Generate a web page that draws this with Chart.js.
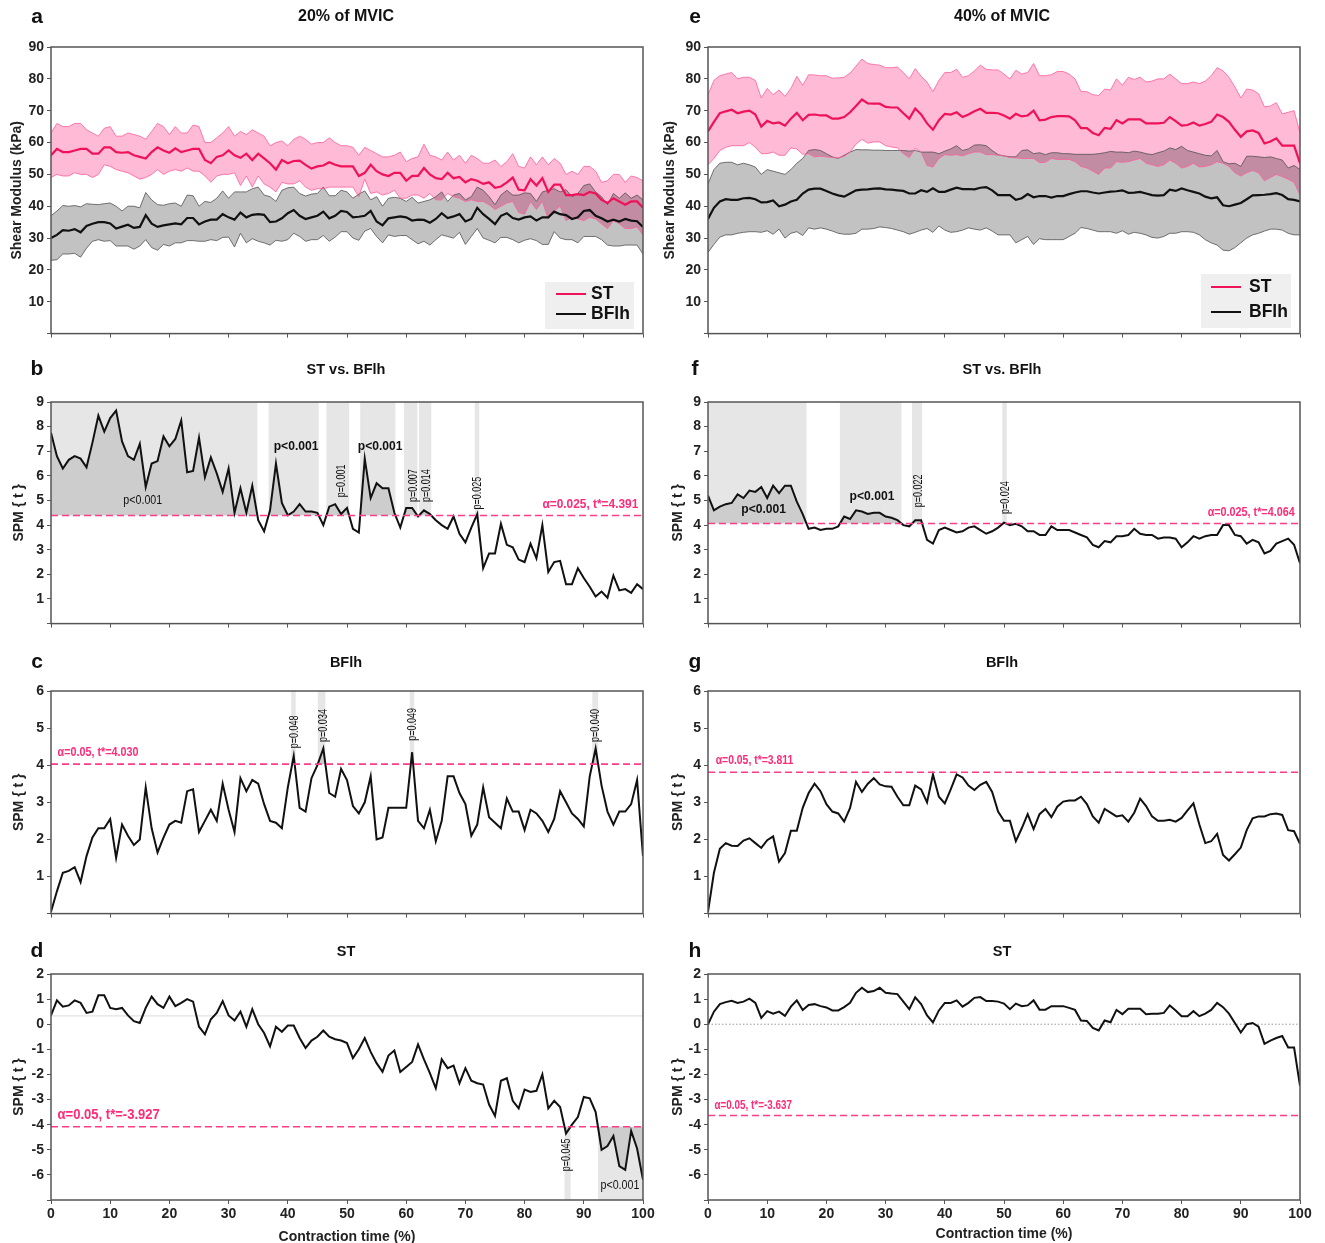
<!DOCTYPE html>
<html>
<head>
<meta charset="utf-8">
<title>Shear modulus and SPM</title>
<script src="https://cdn.jsdelivr.net/npm/chart.js@4.4.0/dist/chart.umd.min.js"></script>
<style>
  html, body { margin: 0; padding: 0; background: #fff; }
  #wrap { position: relative; width: 1325px; height: 1243px; overflow: hidden; }
  .panel { position: absolute; }
</style>
</head>
<body>
<div id="wrap"></div>
<script>
// ---- data (x = contraction time 0..100 %) ----
const TIME = Array.from({ length: 101 }, (_, i) => i);

// panel a : 20% MVIC, shear modulus (kPa)
const A_ST_MEAN = [56, 58, 57, 57, 57.5, 58, 58, 56.5, 56.5, 58.5,
  58.5, 57, 56.8, 57, 56, 55.5, 55, 57, 58.5, 57.5,
  56.8, 58.2, 57, 57.5, 58, 58, 54.5, 53.5, 55.5, 56,
  57.5, 56, 55.2, 56.5, 54.5, 56.5, 55, 53.5, 51.5, 54.5,
  53.5, 54.2, 54.3, 53, 51.8, 52.5, 52.8, 53.8, 53, 52.5,
  52.5, 52.5, 49.5, 50.5, 53, 51, 50, 49.5, 50.5, 50.5,
  48, 49.5, 49.5, 52, 50, 48.8, 48.5, 50.5, 48.8, 49.2,
  47.5, 48.5, 48, 47, 47.5, 45.8, 46.2, 47.5, 49, 45.2,
  45, 48.5, 46.5, 48.8, 44.5, 46.8, 46.8, 43.5, 43.5, 43.8,
  43.5, 44.5, 44, 42, 41, 42.5, 41.5, 40.5, 41.5, 41.5,
  39.5];
const A_ST_UP = [63, 66, 65, 65, 66, 66, 64, 63, 62, 64.5,
  65, 62, 62, 63, 62.5, 62, 61, 63.5, 66, 65,
  62.5, 65, 63, 63, 65.5, 65, 60, 60, 61.5, 63,
  65, 62, 63.5, 62.5, 64, 63, 62, 59, 60, 60.5,
  59, 61, 62, 61, 59.5, 60, 60, 61.5, 60, 59,
  59, 58.5, 56, 58.5, 57.5, 56.5, 55.5, 55.5, 56, 57,
  54, 55, 55.5, 59.5, 56, 55.5, 54.5, 57, 54.5, 56,
  53.5, 56, 55, 53.5, 53.5, 54.5, 52.5, 54, 56.5, 52.5,
  52, 55.5, 53, 55.5, 53, 55, 53.5, 50, 51, 50,
  52.5, 52.5, 51, 47.5, 48, 50, 50, 47.5, 49.5, 49,
  48];
const A_ST_LO = [49, 50, 49.5, 49.5, 50.5, 50, 50, 49, 50, 53,
  52.5, 51.5, 51, 50.5, 49.5, 48.5, 49, 50, 51.5, 50,
  51, 51.5, 51, 52, 51, 51, 49.5, 47.5, 49.5, 50,
  50, 50.5, 46.5, 49.5, 46, 49.5, 47, 46, 44.5, 47.5,
  47, 47, 48, 46, 45, 45.5, 45.5, 46, 46, 46,
  46, 46, 43, 48.5, 44, 44.5, 43.5, 44, 45, 42.5,
  42.5, 43.5, 43.5, 42.5, 44, 42, 42, 44, 43, 42.5,
  41.5, 42, 41.5, 41.5, 40.5, 39, 40, 41, 41.5, 38,
  37.5, 41.5, 39, 41.5, 36, 38.5, 40, 35.5, 36.5, 36,
  35.5, 36.5, 36, 34.5, 33, 35.5, 34.5, 33, 33, 33.5,
  31];
const A_BF_MEAN = [30, 31, 32.5, 32.3, 32.8, 31.8, 33.8, 34.5, 35, 35,
  34.6, 33, 33.6, 34.2, 33.2, 33.5, 37.2, 34.5, 33.5, 34,
  34.3, 34.6, 34.3, 36.3, 36.3, 34.3, 35.2, 35.8, 35.8, 37.5,
  36.5, 35.8, 38, 36.5, 37.3, 37.5, 37.3, 35, 35.2, 36.2,
  37.8, 38.8, 37, 36, 36.5, 37, 38.3, 36.2, 37, 38.5,
  38.2, 36.5, 36.7, 37, 38.5, 35.2, 34, 36.2, 36.5, 36.8,
  36.5, 35.5, 35.8, 35.7, 34.8, 36, 37.8, 36.3, 36.8, 37.5,
  35.2, 36, 39.5, 37.5, 36, 34.4, 37, 37.8, 36.3, 35.8,
  36.5, 36.8, 35.5, 36.5, 36.5, 38.3, 37.5, 37.2, 36, 36.5,
  38.5, 38.8, 37, 36.2, 35.2, 35.8, 35.2, 36, 35.5, 35.3,
  33.5];
const A_BF_UP = [37, 38.5, 40.2, 40, 40.2, 39.8, 40.8, 40.6, 40.5, 40.8,
  41, 40, 38.5, 40, 40, 39.5, 44.3, 42, 40.5, 40.3,
  40.8, 41, 40, 43.5, 43.3, 40, 41.5, 41.2, 42.5, 44.8,
  42.5, 44.5, 44.5, 44.5, 45.5, 46, 43.5, 43, 41.5, 45,
  45.8, 46, 44, 43.2, 43.8, 44, 46, 43.3, 43.3, 45,
  44.5, 42.5, 43.8, 44.8, 42, 43, 40, 42.5, 42.8, 42.5,
  41.5, 42.8, 41, 41.5, 42, 43, 44.5, 41.5, 43.5, 44,
  42, 43, 46, 45, 43, 40.5, 43.5, 45, 43.5, 43.5,
  44.2, 44, 41.5, 44.5, 45, 45.5, 44.5, 45.2, 43, 44,
  46.5, 47, 44.5, 43, 40.5, 44, 42.5, 44.2, 42.5, 43.5,
  42];
const A_BF_LO = [23, 23.2, 25, 25, 25.2, 24, 26.8, 29, 29.5, 29,
  29.2, 27.5, 27.5, 27.5, 26.5, 27.5, 29.5, 27, 26.2, 28,
  27.5, 28.5, 28.5, 29.2, 29.2, 29, 29, 29.5, 29.2, 30.2,
  30.3, 27.2, 31.5, 28.5, 29.8, 29, 28.5, 27.8, 29.3, 29,
  29.5, 31.5, 30.5, 29, 29.5, 29.5, 30.8, 29, 30.3, 32,
  32, 30, 29.3, 32.2, 33, 30.5, 28.5, 31, 30.5, 30.8,
  30.8, 29.5, 28.2, 29, 27.8, 29.5, 31, 30.5, 30, 31.8,
  28, 30.5, 33, 30, 29.3, 28.5, 30.2, 30.2, 29.5, 28.5,
  29.3, 29.8, 29.2, 28, 28, 32, 30, 29.5, 29.5, 28.5,
  30.5, 30.5, 30.5, 29.5, 27.8, 27.5, 27.5, 27.8, 27.8, 27.8,
  25];

// panel e : 40% MVIC, shear modulus (kPa)
const E_ST_MEAN = [63.5, 66.5, 69.2, 69.8, 70.3, 69.2, 69.7, 70, 68.8, 65,
  66.8, 66, 66.3, 65.3, 67.5, 69.3, 67, 68.7, 68.8, 68.5,
  68.5, 67.5, 67.5, 68, 69.5, 71.5, 73.5, 72.3, 72.2, 72.2,
  71.2, 71, 71, 69.2, 67.5, 70.7, 68.8, 66, 64, 67,
  69, 68.8, 69.5, 68, 68.8, 69.8, 70.6, 69.3, 69.3, 69.2,
  68.5, 67.5, 69, 68.2, 68.5, 70, 67, 67.2, 68, 68.3,
  68.3, 68.2, 67, 64.5, 64.5, 63, 62.3, 64.6, 64.3, 67,
  66, 67.3, 67.3, 67.3, 66, 66, 66, 66.2, 68, 66.7,
  65.3, 65.5, 66.3, 65.3, 65.8, 66.5, 68.8, 68, 66.5, 64,
  61.8, 63.5, 63.8, 63, 59.7, 60.3, 61.3, 59, 59, 59,
  53.5];
const E_ST_UP = [75, 79.5, 81, 81.5, 82, 80, 80.5, 80.5, 79.5, 74,
  77, 75, 76.5, 74.5, 77, 80.8, 78, 81.3, 81.2, 81,
  81, 80.2, 80.3, 80.5, 81.8, 84, 86.2, 84.8, 84.5, 84.3,
  83.5, 83.5, 83.7, 82, 80, 83.2, 80.8, 79, 76, 79.5,
  82, 82, 83, 80.5, 81, 82.5, 84.3, 83, 82.8, 82.8,
  81.5, 80, 82.7, 81.5, 82, 84.8, 81, 81, 81.3, 82.3,
  82.3, 81.5, 80, 76, 76, 75, 74.8, 76.8, 76.5, 80,
  78, 80.5, 79.8, 80.5, 79, 79.3, 80, 80, 81.5, 80,
  78.5, 78.5, 79, 78.5, 79.3, 81, 83.5, 82.5, 80.5, 77.5,
  74, 76.8, 76.5, 75.3, 71.2, 71.5, 72.5, 69, 69.5, 70,
  63];
const E_ST_LO = [53, 55, 57.5, 58.5, 59, 59, 59, 60, 58.5, 56.5,
  56.5, 57, 56, 56, 58.3, 58, 56.3, 56.5, 55.5, 55.7,
  55.5, 55.3, 55.2, 55.7, 57, 59.5, 61, 59.8, 60.2, 60.2,
  59, 58.6, 58.3, 56.5, 55.3, 58.2, 57, 52.8, 52.3, 55,
  56.2, 56, 56.2, 55.8, 56.5, 57, 57, 56.2, 56.2, 56,
  55.8, 55.3, 55.2, 55, 55, 55, 53.7, 53.8, 55, 54.7,
  54.7, 54.7, 54, 52.5, 52, 51, 50, 52, 52, 54,
  53.8, 54, 54.5, 55, 53.5, 53, 52.5, 53, 54.5, 53.5,
  52, 52.5, 53.5, 52.3, 52.5, 53, 54, 53.5, 52.5, 50.5,
  49.5, 50.5, 51.2, 50.5, 48, 49, 50, 49.3, 48.5, 47.5,
  43.5];
const E_BF_MEAN = [36, 39.5, 41.5, 42.2, 42, 42, 42.5, 42.6, 42.2, 41.2,
  41.3, 41.8, 40, 40.5, 41.5, 42, 44, 45.2, 45.5, 45.5,
  44.8, 44, 43.4, 43, 44, 45, 45.2, 45.3, 45.5, 45.6,
  45.3, 45.2, 45, 44.8, 44, 44, 45, 44.5, 45.6, 44.5,
  44.5, 45.2, 45.8, 45.4, 45.4, 45.3, 45.8, 46, 45, 43.5,
  43.5, 43.5, 42, 42.5, 43.8, 42.8, 43.2, 43.2, 42.7, 43.2,
  43.2, 43.8, 44.3, 44.7, 44.7, 44.3, 44, 44.3, 44.6, 44.7,
  45, 44.2, 44.3, 44.5, 44, 43.5, 43.3, 43.5, 45.2, 44.8,
  45.6, 45, 44.5, 44, 43, 42.5, 42.8, 40.3, 40, 40.5,
  41, 42.2, 43.4, 43.5, 43.6, 43.8, 44.1, 43.5, 42.2, 42,
  41.5];
const E_BF_UP = [47, 51.5, 53.5, 53.8, 53.8, 53, 53.5, 53, 52.3, 50,
  51.5, 51, 50.5, 50, 51.5, 53.5, 55, 57.5, 57.8, 57.5,
  56.5, 55.5, 55, 56, 57, 57.8, 57.7, 57.7, 57.6, 57.6,
  57.5, 57.5, 57.5, 57.5, 57.3, 57.5, 57, 57, 57, 56.5,
  57.3, 58, 59, 57.5, 58, 59.2, 59.3, 59, 57.5, 56.2,
  55.8, 55.5, 55.5, 57.5, 57.7, 56.5, 56.8, 56.2, 56.8, 56.8,
  56.5, 56.5, 56.3, 56.3, 56.3, 56.3, 56.5, 56.8, 57.2, 57,
  57, 56.8, 57.3, 57, 56.5, 56.2, 56.8, 57.3, 58.3, 57.8,
  58.8, 57.5, 57, 56.5, 56, 55.8, 57.5, 54, 53.3, 53.5,
  52.5, 55.7, 55.7, 55.5, 55.3, 55.5, 55, 54.5, 52, 52.8,
  51.5];
const E_BF_LO = [25.5, 28, 30.3, 31, 31, 31.5, 31.8, 32, 32, 31.8,
  32.3, 31.2, 32.8, 30, 31.5, 32, 30.8, 33.2, 32.8, 33.2,
  32.8, 32.2, 31.5, 31.2, 31.2, 31.5, 32.8, 32.8, 33, 33.5,
  33.3, 33, 32.5, 32, 31.2, 31.8, 32.5, 33, 31.8, 33.8,
  32.5, 31.8, 32, 32.5, 33.2, 32.8, 32.5, 33.2, 32.2, 31,
  31, 31, 28.5, 29.5, 30.5, 28, 29.8, 29.5, 29.5, 29.5,
  29.5, 30.5, 31.5, 33.3, 33, 32.5, 32, 32, 32, 31.5,
  32.3, 31.2, 31.8, 31.5, 31, 30.2, 30, 30.5, 31.5, 31.5,
  32, 32, 31.8, 31, 29.5, 28.5, 27.8, 26.2, 26, 27,
  28.5, 30, 31, 31.5, 32.2, 32.8, 32.8, 32.5, 31.5, 31,
  31];

// SPM{t} curves
const B_SPM = [7.75, 6.8, 6.3, 6.65, 6.8, 6.7, 6.35, 7.35, 8.45, 7.8,
  8.35, 8.65, 7.4, 6.8, 6.65, 7.3, 5.55, 6.5, 6.6, 7.6,
  7.2, 7.5, 8.25, 6.15, 6.2, 7.55, 5.95, 6.75, 6.1, 5.35,
  6.3, 4.5, 5.5, 4.5, 5.6, 4.2, 3.75, 4.6, 6.5, 4.9,
  4.4, 4.55, 4.85, 4.55, 4.55, 4.5, 4.0, 4.75, 4.85, 4.45,
  4.7, 3.85, 3.7, 6.7, 5.1, 5.7, 5.5, 5.5, 4.5, 3.9,
  4.7, 4.7, 4.35, 4.6, 4.45, 4.2, 4.0, 3.85, 4.35, 3.65,
  3.3, 3.9, 4.45, 2.25, 2.85, 2.85, 4.05, 3.2, 3.1, 2.6,
  2.5, 3.25, 2.65, 4.0, 2.1, 2.5, 2.55, 1.6, 1.6, 2.25,
  1.85, 1.5, 1.1, 1.3, 1.05, 1.95, 1.35, 1.4, 1.25, 1.6,
  1.4];
const C_SPM = [0.05, 0.6, 1.1, 1.15, 1.25, 0.85, 1.55, 2.05, 2.3, 2.3,
  2.55, 1.5, 2.4, 2.1, 1.85, 2.0, 3.4, 2.3, 1.65, 2.05,
  2.4, 2.5, 2.45, 3.3, 3.35, 2.2, 2.5, 2.8, 2.5, 3.5,
  2.8, 2.2, 3.65, 3.3, 3.6, 3.5, 2.95, 2.5, 2.45, 2.3,
  3.4, 4.25, 2.85, 2.75, 3.65, 4.0, 4.45, 3.25, 3.15, 3.9,
  3.6, 2.9, 2.7, 3.0, 3.7, 2.0, 2.05, 2.85, 2.85, 2.85,
  2.85, 4.35, 2.5, 2.3, 2.8, 1.95, 2.5, 3.7, 3.7, 3.25,
  2.95, 2.1, 2.4, 3.4, 2.6, 2.45, 2.3, 3.1, 2.75, 2.75,
  2.25, 2.8, 2.7, 2.5, 2.2, 2.55, 3.3, 3.0, 2.7, 2.55,
  2.35, 3.7, 4.45, 3.45, 2.75, 2.4, 2.75, 2.75, 2.95, 3.6,
  1.55];
const D_SPM = [0.35, 0.95, 0.7, 0.75, 0.95, 0.85, 0.45, 0.5, 1.15, 1.15,
  0.65, 0.6, 0.65, 0.35, 0.12, 0.05, 0.65, 1.1, 0.8, 0.65,
  1.1, 0.72, 0.85, 1.0, 0.9, -0.1, -0.4, 0.2, 0.45, 0.92,
  0.35, 0.15, 0.5, -0.1, 0.6, 0.0, -0.35, -0.88, -0.1, -0.3,
  -0.05, -0.05, -0.55, -0.95, -0.65, -0.5, -0.25, -0.5, -0.6, -0.65,
  -0.75, -1.35, -1.0, -0.55, -1.1, -1.55, -1.9, -1.25, -1.05, -1.9,
  -1.7, -1.5, -0.8, -1.4, -1.95, -2.55, -1.4, -1.75, -1.65, -2.35,
  -1.75, -2.25, -2.35, -2.4, -3.2, -3.65, -2.25, -2.15, -3.05, -3.35,
  -2.6, -2.7, -2.65, -2.0, -3.35, -3.05, -3.3, -4.35, -4.0, -3.7,
  -2.9, -2.95, -3.5, -5.0, -4.85, -4.45, -5.65, -5.8, -4.25, -4.95,
  -6.2];
const F_SPM = [5.2, 4.6, 4.75, 4.85, 4.9, 5.25, 5.1, 5.4, 5.35, 5.55,
  5.1, 5.6, 5.3, 5.6, 5.6, 4.95, 4.45, 3.85, 3.9, 3.8,
  3.85, 3.85, 3.95, 4.35, 4.25, 4.6, 4.55, 4.45, 4.5, 4.5,
  4.35, 4.3, 4.2, 4.0, 3.95, 4.2, 4.2, 3.4, 3.25, 3.8,
  3.9, 3.8, 3.7, 3.75, 3.9, 3.95, 3.8, 3.65, 3.75, 3.9,
  4.1, 4.0, 4.05, 3.95, 3.75, 3.75, 3.6, 3.6, 3.95, 3.8,
  3.8, 3.8, 3.7, 3.6, 3.5, 3.2, 3.1, 3.35, 3.3, 3.55,
  3.55, 3.6, 3.85, 3.65, 3.6, 3.6, 3.45, 3.5, 3.5, 3.45,
  3.1, 3.3, 3.55, 3.45, 3.55, 3.6, 3.6, 4.0, 4.0, 3.6,
  3.55, 3.25, 3.4, 3.3, 2.85, 2.95, 3.25, 3.35, 3.45, 3.2,
  2.45];
const G_SPM = [0.05, 1.1, 1.75, 1.9, 1.83, 1.82, 1.97, 2.03, 1.9, 1.77,
  1.98, 2.08, 1.4, 1.63, 2.23, 2.23, 2.85, 3.25, 3.5, 3.3,
  2.95, 2.75, 2.7, 2.48, 2.85, 3.55, 3.28, 3.5, 3.65, 3.48,
  3.43, 3.42, 3.15, 2.92, 2.92, 3.45, 3.35, 3.0, 3.75, 3.15,
  2.97, 3.35, 3.75, 3.67, 3.45, 3.33, 3.47, 3.55, 3.28, 2.75,
  2.5, 2.5, 1.95, 2.3, 2.68, 2.28, 2.68, 2.82, 2.6, 2.88,
  3.02, 3.05, 3.05, 3.15, 2.95, 2.62, 2.45, 2.82, 2.72, 2.62,
  2.65, 2.48, 2.72, 3.1, 2.9, 2.62, 2.5, 2.5, 2.53, 2.48,
  2.58, 2.78, 2.97, 2.4, 1.9, 1.95, 2.15, 1.58, 1.43, 1.6,
  1.78, 2.25, 2.57, 2.62, 2.62, 2.68, 2.7, 2.66, 2.25, 2.22,
  1.88];
const H_SPM = [0.0, 0.5, 0.8, 0.88, 0.93, 0.85, 0.9, 1.02, 0.85, 0.25,
  0.52, 0.42, 0.5, 0.33, 0.7, 0.95, 0.57, 0.77, 0.8, 0.72,
  0.67, 0.55, 0.55, 0.68, 0.85, 1.25, 1.45, 1.28, 1.32, 1.45,
  1.25, 1.22, 1.2, 0.9, 0.6, 1.07, 0.8, 0.35, 0.07, 0.55,
  0.85, 0.85, 0.95, 0.7, 0.85, 1.05, 1.08, 0.92, 0.92, 0.9,
  0.82, 0.6, 0.82, 0.72, 0.75, 0.95, 0.58, 0.58, 0.72, 0.72,
  0.72, 0.65, 0.57, 0.15, 0.13, -0.15, -0.25, 0.15, 0.08, 0.57,
  0.4, 0.62, 0.62, 0.62, 0.4, 0.42, 0.42, 0.45, 0.75, 0.55,
  0.32, 0.32, 0.52, 0.32, 0.42, 0.57, 0.85, 0.68, 0.42, 0.05,
  -0.33, 0.0, 0.05, -0.1, -0.78, -0.65, -0.55, -0.47, -0.93, -0.93,
  -2.45];

// critical thresholds (d: the dashed line sits at about -4.08 in the figure)
const B_THRESHOLD = 4.391, C_THRESHOLD = 4.030, D_THRESHOLD = -4.08;
const F_THRESHOLD = 4.064, G_THRESHOLD = 3.811, H_THRESHOLD = -3.637;

// annotations: [text, x, y, kind]
const B_NOTES = [['p<0.001', 15.5, 5.0, 'small'], ['p<0.001', 41.4, 7.2, 'bold'], ['p=0.001', 49, 5.8, 'rot'],
  ['p<0.001', 55.6, 7.2, 'bold'], ['p=0.007', 61.2, 5.6, 'rot'], ['p=0.014', 63.5, 5.6, 'rot'], ['p=0.025', 72, 5.3, 'rot']];
const C_NOTES = [['p=0.048', 41.1, 4.9, 'rot'], ['p=0.034', 46.1, 5.07, 'rot'], ['p=0.049', 61, 5.1, 'rot'], ['p=0.040', 92, 5.07, 'rot']];
const D_NOTES = [['p=0.045', 87.1, -5.2, 'rot'], ['p<0.001', 96.1, -6.4, 'small']];
const F_NOTES = [['p<0.001', 9.4, 4.63, 'bold'], ['p<0.001', 27.7, 5.15, 'bold'], ['p=0.022', 35.6, 5.39, 'rot'], ['p=0.024', 50.3, 5.12, 'rot']];

// ---- drawing helpers ----
const FONT = "'Liberation Sans', Arial, Helvetica, sans-serif";
Chart.defaults.font.family = FONT;
Chart.defaults.color = '#222';
const PINK = '#ef1259';
const DASH_PINK = '#ff3d86';
const NOTE_STYLE = {
  small: { size: 13, bold: false, squeeze: 0.82 },
  bold: { size: 12.5, bold: true, squeeze: 0.97 },
  rot: { size: 12.5, bold: false, squeeze: 0.72, rotate: true }
};

function drawText(ctx, text, x, y, s) {
  ctx.save();
  ctx.translate(x, y);
  if (s.rotate) ctx.rotate(-Math.PI / 2);
  ctx.scale(s.squeeze || 1, 1);
  ctx.font = (s.bold ? 'bold ' : '') + s.size + 'px ' + FONT;
  ctx.fillStyle = s.color || '#111';
  ctx.textAlign = s.align || 'center';
  ctx.textBaseline = 'middle';
  ctx.fillText(text, 0, 0);
  ctx.restore();
}

// supra-threshold clusters, crossings found by linear interpolation
function findClusters(vals, thr, sign) {
  const out = [];
  let start = null;
  const over = v => (sign > 0 ? v > thr : v < thr);
  const cross = i => TIME[i - 1] + (thr - vals[i - 1]) / (vals[i] - vals[i - 1]) * (TIME[i] - TIME[i - 1]);
  for (let i = 0; i < vals.length; i++) {
    const o = over(vals[i]);
    if (o && start === null) start = i === 0 ? TIME[0] : cross(i);
    if (!o && start !== null) { out.push([start, cross(i)]); start = null; }
  }
  if (start !== null) out.push([start, TIME[TIME.length - 1]]);
  return out;
}

const figurePlugin = {
  id: 'figure',
  beforeDatasetsDraw(chart) {
    const p = chart.canvas._panel;
    const { ctx, chartArea: ca } = chart;
    const xs = chart.scales.x, ys = chart.scales.y;
    ctx.save();
    ctx.beginPath();
    ctx.rect(ca.left, ca.top, ca.right - ca.left, ca.bottom - ca.top);
    ctx.clip();
    if (p.refLine) {
      const yy = ys.getPixelForValue(p.refLine.value);
      ctx.strokeStyle = p.refLine.color;
      ctx.lineWidth = 1;
      ctx.setLineDash(p.refLine.dash || []);
      ctx.beginPath(); ctx.moveTo(ca.left, yy); ctx.lineTo(ca.right, yy); ctx.stroke();
      ctx.setLineDash([]);
    }
    if (p.spm) {
      const yT = ys.getPixelForValue(p.threshold);
      const yEdge = p.sign > 0 ? ca.top : ca.bottom;
      ctx.fillStyle = '#e6e6e6';
      findClusters(p.spm, p.threshold, p.sign).forEach(([a, b]) => {
        const x0 = xs.getPixelForValue(a), x1 = xs.getPixelForValue(b);
        const w = Math.max(x1 - x0, 4.5);
        ctx.fillRect((x0 + x1) / 2 - w / 2, Math.min(yT, yEdge), w, Math.abs(yEdge - yT));
      });
    }
    if (p.bands) {
      p.bands.forEach(b => {
        ctx.globalCompositeOperation = b.blend;
        ctx.fillStyle = b.color;
        ctx.beginPath();
        b.upper.forEach((v, i) => {
          const px = xs.getPixelForValue(TIME[i]), py = ys.getPixelForValue(v);
          if (i === 0) ctx.moveTo(px, py); else ctx.lineTo(px, py);
        });
        for (let i = b.lower.length - 1; i >= 0; i--) {
          ctx.lineTo(xs.getPixelForValue(TIME[i]), ys.getPixelForValue(b.lower[i]));
        }
        ctx.closePath();
        ctx.fill();
      });
      ctx.globalCompositeOperation = 'source-over';
    }
    ctx.restore();
  },
  afterDatasetsDraw(chart) {
    const p = chart.canvas._panel;
    const { ctx, chartArea: ca } = chart;
    const xs = chart.scales.x, ys = chart.scales.y;
    const [L, T] = p.box;
    ctx.save();
    if (p.spm) {
      const yT = ys.getPixelForValue(p.threshold);
      ctx.strokeStyle = DASH_PINK;
      ctx.lineWidth = 1.6;
      ctx.setLineDash([7, 4]);
      ctx.beginPath(); ctx.moveTo(ca.left, yT); ctx.lineTo(ca.right, yT); ctx.stroke();
      ctx.setLineDash([]);
      const t = p.thrLabel;
      drawText(ctx, t.text, xs.getPixelForValue(t.x), ys.getPixelForValue(t.y),
        { size: t.size, bold: true, squeeze: t.squeeze, align: t.align, color: '#ff2a78' });
    }
    (p.notes || []).forEach(([text, x, y, kind]) => {
      drawText(ctx, text, xs.getPixelForValue(x), ys.getPixelForValue(y), NOTE_STYLE[kind]);
    });
    // frame
    ctx.strokeStyle = '#555';
    ctx.lineWidth = 1.5;
    ctx.strokeRect(ca.left, ca.top, ca.right - ca.left, ca.bottom - ca.top);
    // legend inside the plot
    if (p.legend) {
      const g = p.legend;
      ctx.fillStyle = '#efefef';
      ctx.fillRect(g.box[0] - L, g.box[1] - T, g.box[2], g.box[3]);
      chart.data.datasets.filter(d => d.inLegend).forEach((d, k) => {
        const yy = g.rows[k] - T;
        ctx.strokeStyle = d.borderColor;
        ctx.lineWidth = 2;
        ctx.beginPath(); ctx.moveTo(g.line[0] - L, yy); ctx.lineTo(g.line[1] - L, yy); ctx.stroke();
        drawText(ctx, d.label, g.text - L, yy, { size: 17.5, bold: true, align: 'left', color: '#111' });
      });
    }
    ctx.restore();
  },
  afterDraw(chart) {
    const p = chart.canvas._panel;
    const ctx = chart.ctx;
    const [L, T] = p.box;
    drawText(ctx, p.key, p.letter[0] - L, p.letter[1] - T, { size: 21, bold: true, color: '#111' });
    drawText(ctx, p.title, p.titlePos[0] - L, p.titlePos[1] - T, { size: p.titleSize, bold: true, color: '#111' });
  }
};

function line(values, color, width, extra) {
  return Object.assign({
    data: values.map((v, i) => ({ x: TIME[i], y: v })),
    borderColor: color, borderWidth: width, pointRadius: 0, fill: false, tension: 0
  }, extra || {});
}

function modulusSets(stMean, stUp, stLo, bfMean, bfUp, bfLo) {
  return [
    line(stMean, PINK, 2.2, { label: 'ST', inLegend: true }),
    line(bfMean, '#111', 2.2, { label: 'BFlh', inLegend: true }),
    line(stUp, '#ff5d9b', 0.8), line(stLo, '#ff5d9b', 0.8),
    line(bfUp, '#505050', 0.8), line(bfLo, '#505050', 0.8)
  ];
}

function spmSet(values, thr, sign) {
  return [line(values, '#111', 2, {
    fill: { target: { value: thr }, above: sign > 0 ? '#cdcdcd' : 'rgba(0,0,0,0)', below: sign > 0 ? 'rgba(0,0,0,0)' : '#cdcdcd' }
  })];
}

const LEFT = { x: 0, w: 660, pl: 51, pr: 643 };
const RIGHT = { x: 660, w: 665, pl: 708, pr: 1300 };
const ROWS = [
  { y: 0, h: 345, pt: 47, pb: 338 },
  { y: 355, h: 280, pt: 402, pb: 626 },
  { y: 645, h: 280, pt: 691, pb: 916 },
  { y: 935, h: 308, pt: 974, pb: 1200 }
];

function place(col, row) {
  return { box: [col.x, row.y, col.w, row.h], plot: [col.pl, row.pt, col.pr, row.pb] };
}

const PANELS = [
  Object.assign(place(LEFT, ROWS[0]), {
    key: 'a', title: '20% of MVIC', titleSize: 16, letter: [37, 17], titlePos: [346, 17],
    y: [0, 90, 10], yTitle: 'Shear Modulus (kPa)', yPad: 9,
    datasets: modulusSets(A_ST_MEAN, A_ST_UP, A_ST_LO, A_BF_MEAN, A_BF_UP, A_BF_LO),
    bands: [{ upper: A_BF_UP, lower: A_BF_LO, color: '#c2c2c2', blend: 'source-over' },
            { upper: A_ST_UP, lower: A_ST_LO, color: '#ffbad6', blend: 'multiply' }],
    legend: { box: [545, 282, 89, 47], rows: [294, 314], line: [556, 586], text: 591 }
  }),
  Object.assign(place(LEFT, ROWS[1]), {
    key: 'b', title: 'ST vs. BFlh', titleSize: 14.5, letter: [37, 369], titlePos: [346, 370],
    y: [0, 9, 1], yTitle: 'SPM { t }', yPad: 11,
    datasets: spmSet(B_SPM, B_THRESHOLD, 1), spm: B_SPM, threshold: B_THRESHOLD, sign: 1, notes: B_NOTES,
    thrLabel: { text: 'α=0.025, t*=4.391', x: 99.2, y: 4.83, align: 'right', size: 13.5, squeeze: 0.88 }
  }),
  Object.assign(place(LEFT, ROWS[2]), {
    key: 'c', title: 'BFlh', titleSize: 14.5, letter: [37, 662], titlePos: [346, 663],
    y: [0, 6, 1], yTitle: 'SPM { t }', yPad: 11,
    datasets: spmSet(C_SPM, C_THRESHOLD, 1), spm: C_SPM, threshold: C_THRESHOLD, sign: 1, notes: C_NOTES,
    thrLabel: { text: 'α=0.05, t*=4.030', x: 1.1, y: 4.36, align: 'left', size: 13.5, squeeze: 0.8 }
  }),
  Object.assign(place(LEFT, ROWS[3]), {
    key: 'd', title: 'ST', titleSize: 14.5, letter: [37, 951], titlePos: [346, 952],
    y: [-7, 2, 1], yTitle: 'SPM { t }', yPad: 11, xLabels: true, xPad: -3,
    datasets: spmSet(D_SPM, D_THRESHOLD, -1), spm: D_SPM, threshold: D_THRESHOLD, sign: -1, notes: D_NOTES,
    refLine: { value: 0.33, color: '#dadada' },
    thrLabel: { text: 'α=0.05, t*=-3.927', x: 1.1, y: -3.63, align: 'left', size: 14.5, squeeze: 0.9 }
  }),
  Object.assign(place(RIGHT, ROWS[0]), {
    key: 'e', title: '40% of MVIC', titleSize: 16, letter: [695, 17], titlePos: [1002, 17],
    y: [0, 90, 10], yTitle: 'Shear Modulus (kPa)', yPad: 2,
    datasets: modulusSets(E_ST_MEAN, E_ST_UP, E_ST_LO, E_BF_MEAN, E_BF_UP, E_BF_LO),
    bands: [{ upper: E_BF_UP, lower: E_BF_LO, color: '#c2c2c2', blend: 'source-over' },
            { upper: E_ST_UP, lower: E_ST_LO, color: '#ffbad6', blend: 'multiply' }],
    legend: { box: [1201, 274, 90, 54], rows: [287, 312], line: [1211, 1241], text: 1249 }
  }),
  Object.assign(place(RIGHT, ROWS[1]), {
    key: 'f', title: 'ST vs. BFlh', titleSize: 14.5, letter: [695, 369], titlePos: [1002, 370],
    y: [0, 9, 1], yTitle: 'SPM { t }', yPad: 10,
    datasets: spmSet(F_SPM, F_THRESHOLD, 1), spm: F_SPM, threshold: F_THRESHOLD, sign: 1, notes: F_NOTES,
    thrLabel: { text: 'α=0.025, t*=4.064', x: 99.1, y: 4.5, align: 'right', size: 13, squeeze: 0.83 }
  }),
  Object.assign(place(RIGHT, ROWS[2]), {
    key: 'g', title: 'BFlh', titleSize: 14.5, letter: [695, 662], titlePos: [1002, 663],
    y: [0, 6, 1], yTitle: 'SPM { t }', yPad: 10,
    datasets: spmSet(G_SPM, G_THRESHOLD, 1), spm: G_SPM, threshold: G_THRESHOLD, sign: 1, notes: [],
    thrLabel: { text: 'α=0.05, t*=3.811', x: 1.3, y: 4.13, align: 'left', size: 13, squeeze: 0.8 }
  }),
  Object.assign(place(RIGHT, ROWS[3]), {
    key: 'h', title: 'ST', titleSize: 14.5, letter: [695, 951], titlePos: [1002, 952],
    y: [-7, 2, 1], yTitle: 'SPM { t }', yPad: 10, xLabels: true, xPad: 0,
    datasets: spmSet(H_SPM, H_THRESHOLD, -1), spm: H_SPM, threshold: H_THRESHOLD, sign: -1, notes: [],
    refLine: { value: 0, color: '#9a9a9a', dash: [1.5, 2] },
    thrLabel: { text: 'α=0.05, t*=-3.637', x: 1.1, y: -3.22, align: 'left', size: 13, squeeze: 0.76 }
  })
];

const wrap = document.getElementById('wrap');

PANELS.forEach(p => {
  const [L, T, W, H] = p.box;
  const [pl, pt, pr, pb] = p.plot;
  const div = document.createElement('div');
  div.className = 'panel';
  div.style.cssText = `left:${L}px;top:${T}px;width:${W}px;height:${H}px;`;
  const cv = document.createElement('canvas');
  cv.width = W; cv.height = H;
  cv.style.width = W + 'px'; cv.style.height = H + 'px';
  cv._panel = p;
  div.appendChild(cv);
  wrap.appendChild(div);

  const axisFont = { size: 14, weight: 'bold' };
  new Chart(cv, {
    type: 'line',
    data: { datasets: p.datasets },
    options: {
      responsive: false,
      animation: false,
      devicePixelRatio: 1,
      layout: { padding: { left: 0, top: pt - T, right: L + W - pr, bottom: 0 } },
      plugins: { legend: { display: false }, tooltip: { enabled: false } },
      scales: {
        x: {
          type: 'linear', min: 0, max: 100,
          afterFit: s => { s.height = T + H - pb; },
          ticks: { display: !!p.xLabels, stepSize: 10, padding: 2, maxRotation: 0, autoSkip: false, font: axisFont, color: '#222' },
          grid: { drawOnChartArea: false, drawTicks: true, tickLength: 4, color: '#555' },
          border: { display: false },
          title: { display: !!p.xLabels, text: 'Contraction time (%)', font: { size: 14, weight: 'bold' }, color: '#222',
                   padding: { top: 0, bottom: p.xPad || 0 } }
        },
        y: {
          min: p.y[0], max: p.y[1],
          afterFit: s => { s.width = pl - L; },
          ticks: { stepSize: p.y[2], padding: 3, font: axisFont, color: '#222',
                   callback: v => (v === p.y[0] ? '' : v) },
          grid: { drawOnChartArea: false, drawTicks: true, tickLength: 4, color: '#555' },
          border: { display: false },
          title: { display: true, text: p.yTitle, font: { size: 14, weight: 'bold' }, color: '#222',
                   padding: { top: p.yPad, bottom: 0 } }
        }
      }
    },
    plugins: [figurePlugin]
  });
});
</script>
</body>
</html>
